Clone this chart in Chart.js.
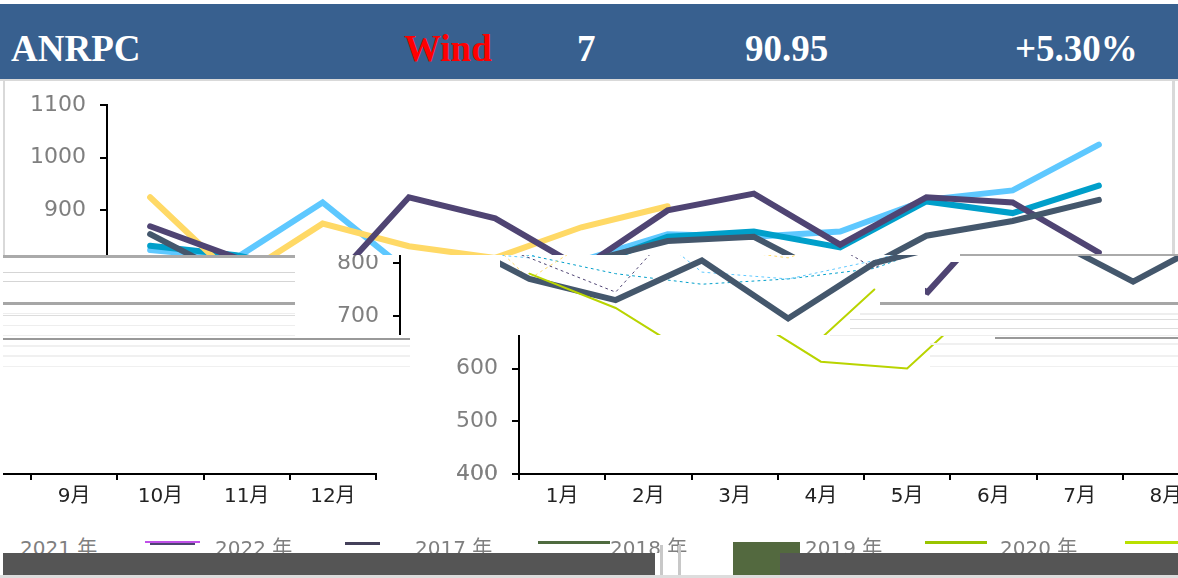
<!DOCTYPE html>
<html>
<head>
<meta charset="utf-8">
<script src="https://cdn.jsdelivr.net/npm/chart.js@4"></script>
<style>
  html, body { margin: 0; padding: 0; background: #fff; }
  #page { position: relative; width: 1178px; height: 578px; overflow: hidden; background: #fff; }
  .clip { position: absolute; overflow: hidden; }
  .clip canvas { position: absolute; }
  .box { position: absolute; }
  .head { position: absolute; top: 27px; font: bold 37px "Liberation Serif", serif; color: #fff; white-space: nowrap; }
  .leg { position: absolute; top: 532px; font: 20px "DejaVu Sans", "Noto Sans CJK SC", sans-serif; color: #7f7f7f; white-space: nowrap; }
</style>
</head>
<body>
<div id="page"></div>
<script>
const months = ['1月', '2月', '3月', '4月', '5月', '6月', '7月', '8月', '9月', '10月', '11月', '12月'];
const yTicks = [400, 500, 600, 700, 800, 900, 1000, 1100];

const values2018 = [855, 770, 730, 805, 695, 800, 842, 850, 765, 852, 880, 920];
const values2019 = [833, 815, 780, 760, 770, 790, 850, 860, 830, 917, 895, 947];
const values2020 = [null, 780, 715, 613, 600, 750, null, null, null, null, null, null];
const values2021 = [870, 810, 745, 925, 885, 790, 900, 932, 835, 925, 915, 820];
const values2023 = [825, 810, 915, 783, 770, 805, 855, 850, 860, 920, 938, 1025];
const values2022 = [925, 770, 875, 832, 810, 868, 908, null, null, null, null, null];

const legendNames = ['2021 年', '2022 年', '2017 年', '2018 年', '2019 年', '2020 年'];

const page = document.getElementById('page');

function box(x, y, w, h, color) {
  const d = document.createElement('div');
  d.className = 'box';
  d.style.cssText = `left:${x}px;top:${y}px;width:${w}px;height:${h}px;background:${color}`;
  page.appendChild(d);
}

function text(cls, x, str, color) {
  const d = document.createElement('div');
  d.className = cls;
  d.style.left = x + 'px';
  if (color) d.style.color = color;
  d.textContent = str;
  page.appendChild(d);
}

function seriesList() {
  return [
    { label: '2020年', data: values2020, borderColor: '#b9d400', borderWidth: 2 },
    { label: '2018年', data: values2018, borderColor: '#44576c', borderWidth: 6 },
    { label: '2021年', data: values2021, borderColor: '#4f4473', borderWidth: 6 },
    { label: '2022年', data: values2022, borderColor: '#ffd966', borderWidth: 6 },
    { label: '2019年', data: values2019, borderColor: '#009fca', borderWidth: 6 },
    { label: '2023年', data: values2023, borderColor: '#5ec8ff', borderWidth: 6 }
  ];
}

// the picture is cut in bands that sit sideways, so each band is its own chart behind a clip
// faint = series that only survive as a dotted trace in that band
function panel(x, y, w, h, shift, only, faint) {
  const wrap = document.createElement('div');
  wrap.className = 'clip';
  wrap.style.cssText = `left:${x}px;top:${y}px;width:${w}px;height:${h}px`;
  const cv = document.createElement('canvas');
  cv.width = 1178;
  cv.height = 578;
  cv.style.left = (shift - x) + 'px';
  cv.style.top = (-y) + 'px';
  wrap.appendChild(cv);
  page.appendChild(wrap);

  let sets = seriesList();
  if (only) sets = sets.filter(s => only.includes(s.label));
  if (faint) {
    sets.forEach(s => {
      if (faint.includes(s.label)) {
        s.borderWidth = 1;
        s.borderDash = [2, 4];
      }
    });
  }

  new Chart(cv, {
    type: 'line',
    data: { labels: months, datasets: sets },
    options: {
      responsive: false,
      animation: false,
      layout: { padding: { left: 0, right: 36, top: 105, bottom: 0 } },
      elements: { point: { radius: 0 }, line: { tension: 0, capBezierPoints: false, borderCapStyle: 'round' } },
      plugins: { legend: { display: false }, title: { display: false }, tooltip: { enabled: false } },
      scales: {
        x: {
          offset: true,
          afterFit: s => { s.height = 104; },
          border: { color: '#000', width: 2 },
          grid: { offset: true, drawOnChartArea: false, color: '#000', lineWidth: 2, tickLength: 6 },
          ticks: { color: '#222', font: { size: 20, family: '"DejaVu Sans", "Noto Sans CJK SC"' }, padding: 5, maxRotation: 0, autoSkip: false }
        },
        y: {
          min: 400,
          max: 1100,
          afterFit: s => { s.width = 107; },
          afterBuildTicks: s => { s.ticks = yTicks.map(v => ({ value: v })); },
          border: { color: '#000', width: 2 },
          grid: { drawOnChartArea: false, color: '#000', lineWidth: 2, tickLength: 7 },
          ticks: { color: '#7f7f7f', font: { size: 22, family: '"DejaVu Sans"' }, padding: 14, callback: v => String(v) }
        }
      }
    }
  });
}

// header
box(0, 4, 1178, 75, '#38608f');
text('head', 11, 'ANRPC');
text('head', 404, 'Wind', '#ff0000');
text('head', 577, '7');
text('head', 745, '90.95');
text('head', 1015, '+5.30%');
box(0, 79, 1178, 2, '#d9d9d9');
box(3, 81, 2, 175, '#d9d9d9');
box(1172, 81, 3, 175, '#d9d9d9');

// chart bands
panel(5, 81, 1167, 174, 0);
box(5, 248, 95, 7, '#ffffff');
panel(295, 255, 883, 80, 293, null, ['2019年', '2021年', '2022年', '2023年']);
box(410, 255, 90, 80, '#ffffff');
panel(925, 262, 40, 38, 605, ['2021年']);
panel(410, 335, 768, 140, 412);
panel(410, 470, 768, 62, 412);
panel(3, 470, 379, 62, -766);

// frame rows left over from the cut
const frameRows = [
  [3, 255, 292, 3, '#aaaaaa'], [3, 272, 292, 1, '#d5d5d5'], [3, 281, 292, 1, '#d5d5d5'],
  [3, 302, 292, 3, '#a6a6a6'], [3, 313, 292, 1, '#eeeeee'], [3, 315, 292, 1, '#dddddd'],
  [3, 325, 292, 1, '#eeeeee'], [3, 335, 292, 1, '#eeeeee'], [3, 338, 407, 2, '#999999'],
  [3, 345, 407, 2, '#f0f0f0'], [3, 355, 407, 2, '#f0f0f0'], [3, 366, 407, 1, '#f0f0f0'],
  [960, 254, 218, 2, '#aaaaaa'], [880, 302, 298, 3, '#a6a6a6'], [860, 313, 318, 2, '#eeeeee'],
  [850, 319, 328, 1, '#dddddd'], [850, 328, 328, 1, '#dddddd'], [830, 335, 348, 1, '#eeeeee'],
  [995, 337, 183, 2, '#999999'], [930, 343, 248, 2, '#f0f0f0'], [930, 355, 248, 2, '#f0f0f0'],
  [930, 366, 248, 1, '#f0f0f0']
];
frameRows.forEach(r => box(r[0], r[1], r[2], r[3], r[4]));

// legend
text('leg', 20, legendNames[0]);
box(145, 541, 55, 2, '#c050e8');
box(150, 543, 45, 2, '#4f4473');
text('leg', 215, legendNames[1]);
box(345, 542, 35, 3, '#44405a');
text('leg', 415, legendNames[2]);
box(538, 541, 72, 3, '#4f6b3f');
text('leg', 610, legendNames[3]);
box(733, 542, 67, 11, '#53693f');
text('leg', 805, legendNames[4]);
box(925, 541, 62, 3, '#99c400');
text('leg', 1000, legendNames[5]);
box(1125, 541, 53, 3, '#b9e000');

// bottom bar
box(3, 553, 652, 22, '#555555');
box(780, 553, 398, 22, '#555555');
box(733, 553, 47, 22, '#53693f');
box(0, 575, 1178, 3, '#dddddd');
box(655, 553, 75, 22, '#ffffff');
box(660, 545, 3, 30, '#c8c8c8');
box(678, 545, 3, 30, '#c8c8c8');
</script>
</body>
</html>
